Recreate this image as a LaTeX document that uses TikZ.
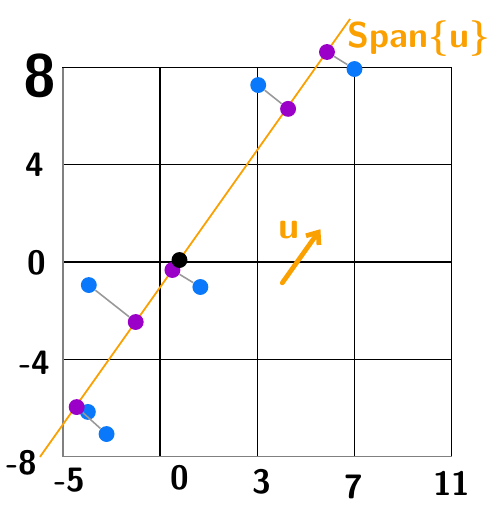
\documentclass[tikz,border=0pt]{standalone}
\usetikzlibrary{arrows.meta}
\definecolor{spanorange}{RGB}{250,160,0}
\definecolor{dotblue}{RGB}{10,120,250}
\definecolor{dotpurple}{RGB}{155,0,200}
\tikzset{
	dot/.style={circle,inner sep=0pt,minimum size=8pt},
	bluedot/.style={dot,fill=dotblue},
	purpledot/.style={dot,fill=dotpurple},
	originpt/.style={dot,fill=black},
	proj/.style={gray!80,line width=0.8pt},
	axlabel/.style={font=\sffamily\bfseries\fontsize{17}{17}\selectfont},
}
\begin{document}
\begin{tikzpicture}[x=0.43cm,y=0.43cm]
	\useasboundingbox (-7.585,-10.0) rectangle (12.56,10.78);
	% grid
	\foreach \col in {-5,-1,...,7} { \foreach \row in {-8,-4,...,4} { \draw[line width=0.6pt] (\col,\row) rectangle (\col+4,\row+4); } }
	\draw[gray,line width=0.8pt] (-5,8) -- (-5,-8) -- (11,-8);
	% span line
	\coordinate (s0) at (-5.94,-8.02);
	\coordinate (s1) at (6.82,10.0);
	\draw[spanorange,line width=0.9pt] (s0) -- (s1);
	\node[text=spanorange,font=\sffamily\bfseries\fontsize{18}{18}\selectfont] (spanlbl) at (9.65,9.2) {Span\{u\}};
	% vector u
	\coordinate (u0) at (4.03,-0.86);
	\coordinate (u1) at (5.6,1.35);
	\draw[spanorange,line width=2.4pt,line cap=round,-{Straight Barb[length=5pt,width=8pt]}] (u0) -- (u1);
	\node[text=spanorange,font=\sffamily\bfseries\fontsize{19}{19}\selectfont] (ulbl) at (4.3,1.3) {u};
	% points and projections
	\node[bluedot] (b1) at (7.0,7.94) {};
	\node[bluedot] (b2) at (3.04,7.28) {};
	\node[bluedot] (b3) at (0.66,-1.03) {};
	\node[bluedot] (b4) at (-3.93,-0.95) {};
	\node[bluedot] (b5) at (-3.97,-6.17) {};
	\node[bluedot] (b6) at (-3.2,-7.08) {};
	\node[purpledot] (p1) at (5.87,8.64) {};
	\node[purpledot] (p2) at (4.27,6.3) {};
	\node[purpledot] (p3) at (-0.49,-0.33) {};
	\node[purpledot] (p4) at (-2.0,-2.47) {};
	\node[purpledot] (p5) at (-4.43,-5.97) {};
	\node[originpt] (o) at (-0.2,0.08) {};
	\draw[proj] (p1) -- (b1);
	\draw[proj] (b2) -- (p2);
	\draw[proj] (p3) -- (b3);
	\draw[proj] (b4) -- (p4);
	\draw[proj] (p5) -- (b6);
	% axis labels
	\node[axlabel,font=\sffamily\bfseries\fontsize{30}{30}\selectfont] (y8) at (-5.94,7.65) {8};
	\node[axlabel] (y4) at (-6.15,3.99) {4};
	\node[axlabel] (y0) at (-6.07,-0.04) {0};
	\node[axlabel] (ym4) at (-6.15,-4.16) {-4};
	\node[axlabel] (ym8) at (-6.7,-8.27) {-8};
	\node[axlabel] (xm5) at (-4.71,-8.97) {-5};
	\node[axlabel] (x0) at (-0.2,-8.89) {0};
	\node[axlabel] (x3) at (3.2,-9.05) {3};
	\node[axlabel] (x7) at (6.98,-9.26) {7};
	\node[axlabel] (x11) at (11.0,-9.1) {11};
\end{tikzpicture}
\end{document}
